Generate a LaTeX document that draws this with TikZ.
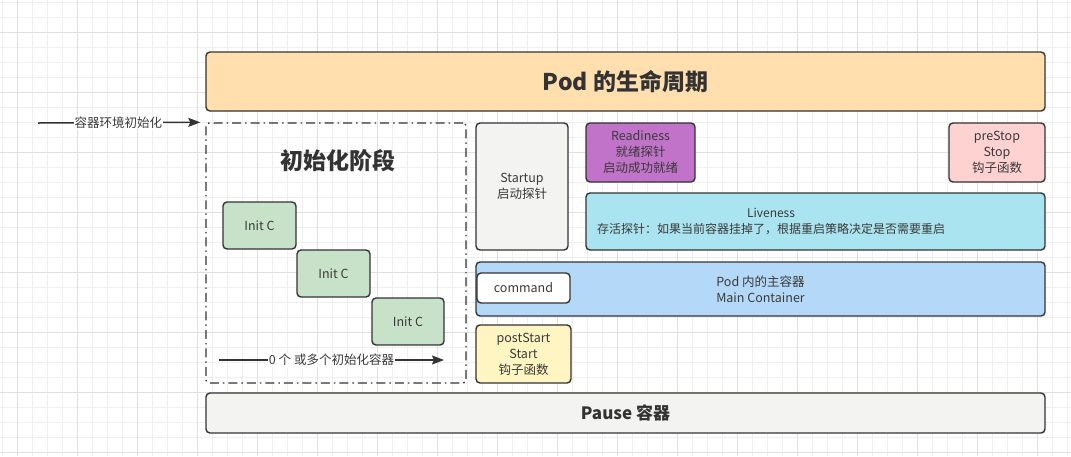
\documentclass[tikz,border=0pt]{standalone}
\usepackage{fontspec}
\setmainfont{Noto Sans CJK SC}
\usetikzlibrary{
  positioning,
  arrows.meta,
  backgrounds
}

\definecolor{strokegray}{HTML}{333333}
\definecolor{textgray}{HTML}{3A3A3A}
\definecolor{gridminor}{HTML}{EFEFEF}
\definecolor{gridmajor}{HTML}{E0E0E0}
\definecolor{podorange}{HTML}{FFDFAE}
\definecolor{initgreen}{HTML}{C8E2CA}
\definecolor{lightgray}{HTML}{F3F3F1}
\definecolor{readypurple}{HTML}{C173C9}
\definecolor{stoppink}{HTML}{FFD2D2}
\definecolor{livecyan}{HTML}{AAE4F0}
\definecolor{mainblue}{HTML}{B4D9F8}
\definecolor{startyellow}{HTML}{FFF5C2}

\begin{document}
\begin{tikzpicture}[
  x=1pt, y=-1pt,
  box/.style={
    draw=strokegray,
    line width=1.4pt,
    rounded corners=4pt,
    align=center,
    inner sep=0pt,
    text=textgray,
    font=\fontsize{12.5}{16}\selectfont
  },
  phase/.style={
    draw=strokegray,
    line width=1.4pt,
    dash pattern=on 9pt off 4pt on 1.5pt off 4pt,
    rounded corners=3pt,
    inner sep=0pt
  },
  arrow/.style={-{Stealth[length=12pt, width=9pt, inset=2pt]}, line width=1.5pt, draw=strokegray},
  arrowlabel/.style={fill=white, inner sep=1pt, text=textgray, font=\fontsize{12.5}{16}\selectfont},
  title/.style={font=\fontsize{23}{28}\selectfont\bfseries, text=strokegray}
]

% Canvas
\useasboundingbox (0,0) rectangle (1071,456);
\begin{scope}[on background layer]
  \fill[white] (0,0) rectangle (1071,456);
  \foreach \gx in {0,...,71} {
    \draw[gridminor, line width=0.9pt] (2+15*\gx,0) -- (2+15*\gx,456);
  }
  \foreach \gy in {0,...,30} {
    \draw[gridminor, line width=0.9pt] (0,2+15*\gy) -- (1071,2+15*\gy);
  }
  \foreach \gx in {0,...,17} {
    \draw[gridmajor, line width=0.9pt] (17+60*\gx,0) -- (17+60*\gx,456);
  }
  \foreach \gy in {0,...,7} {
    \draw[gridmajor, line width=0.9pt] (0,32+60*\gy) -- (1071,32+60*\gy);
  }
\end{scope}

% ==================== POD LIFECYCLE ====================
\node[box, fill=podorange, minimum width=839pt, minimum height=59pt] (podlife) at (625.5,81.5) {};
\node[title] (podtitle) at (podlife.center) {Pod 的生命周期};

% ==================== INIT PHASE ====================
\node[phase, minimum width=260pt, minimum height=260pt] (initsec) at (336,253) {};
\node[title] (inittitle) at (338,161) {初始化阶段};

\coordinate (envstart) at (38,123);
\draw[arrow, shorten >=5pt] (envstart) -- (initsec.north west)
  node[arrowlabel, pos=0.48] (envlabel) {容器环境初始化};

\node[box, fill=initgreen, minimum width=73pt, minimum height=47pt] (initc1) at (259.5,225.5) {Init C};
\node[box, fill=initgreen, minimum width=73pt, minimum height=47pt] (initc2) at (333.5,273.5) {Init C};
\node[box, fill=initgreen, minimum width=72pt, minimum height=47pt] (initc3) at (408,321.5) {Init C};

\coordinate (countstart) at (219,360);
\coordinate (countend) at (444,360);
\draw[arrow] (countstart) -- (countend)
  node[arrowlabel, pos=0.5] (countlabel) {0 个 或多个初始化容器};

% ==================== PROBES ====================
\node[box, fill=lightgray, minimum width=92pt, minimum height=127pt] (startup) at (522,186.5) {Startup\\启动探针};

\node[box, fill=readypurple, minimum width=109pt, minimum height=59pt] (readiness) at (640.5,152.5) {Readiness\\就绪探针\\启动成功就绪};

\node[box, fill=stoppink, minimum width=96pt, minimum height=59pt] (prestop) at (997,152.5) {preStop\\Stop\\钩子函数};

\node[box, fill=livecyan, minimum width=459pt, minimum height=57pt] (liveness) at (815.5,221.5) {};
\node[align=center, text=textgray, font=\fontsize{12}{16}\selectfont] (livetext) at (771,221.5) {Liveness\\存活探针：如果当前容器挂掉了，根据重启策略决定是否需要重启};

% ==================== MAIN CONTAINER ====================
\node[box, fill=mainblue, minimum width=569pt, minimum height=54pt] (maincont) at (760.5,289) {Pod 内的主容器\\Main Container};

\node[box, fill=white, minimum width=93pt, minimum height=30pt] (command) at (523.5,288) {command};

\node[box, fill=startyellow, minimum width=95pt, minimum height=58pt] (poststart) at (523.5,354) {postStart\\Start\\钩子函数};

% ==================== PAUSE ====================
\node[box, fill=lightgray, minimum width=839pt, minimum height=40pt, font=\fontsize{17}{20}\selectfont\bfseries, text=strokegray] (pause) at (625.5,413) {Pause 容器};

\end{tikzpicture}
\end{document}
